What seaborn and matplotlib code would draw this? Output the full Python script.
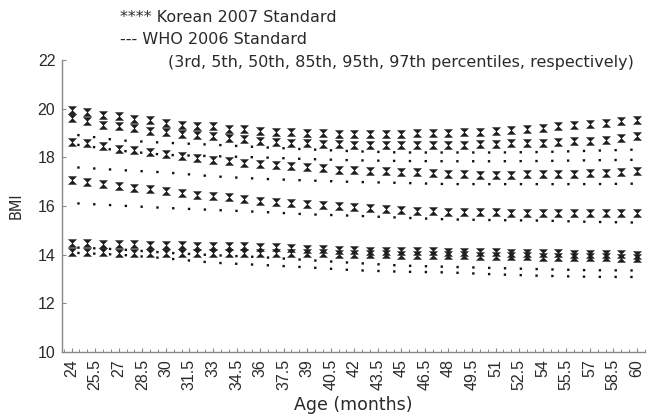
import numpy as np
import pandas as pd
import matplotlib
matplotlib.use('Agg')
import matplotlib.pyplot as plt
from matplotlib.ticker import MultipleLocator
import seaborn as sns

# Korean 2007 standard, read every month from 24 to 60
months = list(range(24, 61))
korean_p97 = [19.96, 19.86, 19.75, 19.68, 19.58, 19.52, 19.41, 19.34, 19.30, 19.28,
              19.18, 19.16, 19.10, 19.05, 19.04, 19.00, 19.00, 18.97, 18.96, 18.96,
              18.96, 18.98, 19.00, 19.00, 19.02, 19.04, 19.06, 19.08, 19.11, 19.16,
              19.21, 19.27, 19.32, 19.37, 19.42, 19.48, 19.55]
korean_p95 = [19.62, 19.48, 19.34, 19.28, 19.20, 19.10, 19.04, 18.96, 18.92, 18.88,
              18.80, 18.74, 18.68, 18.63, 18.60, 18.58, 18.56, 18.54, 18.52, 18.52,
              18.52, 18.52, 18.52, 18.52, 18.52, 18.52, 18.53, 18.55, 18.57, 18.59,
              18.60, 18.63, 18.66, 18.69, 18.73, 18.79, 18.86]
korean_p85 = [18.65, 18.60, 18.48, 18.36, 18.29, 18.22, 18.12, 18.07, 17.98, 17.88,
              17.83, 17.78, 17.74, 17.70, 17.64, 17.60, 17.56, 17.50, 17.46, 17.44,
              17.42, 17.40, 17.38, 17.36, 17.32, 17.30, 17.29, 17.29, 17.29, 17.30,
              17.31, 17.32, 17.33, 17.34, 17.36, 17.38, 17.42]
korean_p50 = [17.05, 16.97, 16.90, 16.82, 16.74, 16.68, 16.60, 16.53, 16.45, 16.40,
              16.35, 16.30, 16.22, 16.16, 16.12, 16.08, 16.03, 15.98, 15.95, 15.90,
              15.87, 15.84, 15.81, 15.79, 15.77, 15.76, 15.75, 15.74, 15.73, 15.72,
              15.72, 15.71, 15.71, 15.70, 15.70, 15.70, 15.70]
korean_p5 = [14.47, 14.46, 14.44, 14.43, 14.42, 14.41, 14.40, 14.38, 14.37, 14.36,
             14.35, 14.34, 14.33, 14.30, 14.27, 14.24, 14.22, 14.20, 14.18, 14.17,
             14.16, 14.15, 14.14, 14.13, 14.12, 14.11, 14.10, 14.09, 14.08, 14.07,
             14.06, 14.05, 14.04, 14.03, 14.02, 14.01, 14.00]
korean_p3 = [14.10, 14.10, 14.09, 14.08, 14.08, 14.07, 14.06, 14.06, 14.06, 14.05,
             14.05, 14.05, 14.05, 14.05, 14.05, 14.05, 14.05, 14.04, 14.03, 14.02,
             14.01, 14.00, 14.00, 13.99, 13.98, 13.97, 13.96, 13.95, 13.94, 13.93,
             13.92, 13.91, 13.90, 13.90, 13.89, 13.88, 13.88]

# WHO 2006 standard, read every 3 months
who_months = list(range(24, 61, 3))
who_p97 = [18.95, 18.70, 18.60, 18.52, 18.42, 18.33, 18.25, 18.20, 18.20, 18.20, 18.22, 18.27, 18.32]
who_p95 = [18.55, 18.28, 18.10, 18.05, 18.00, 17.93, 17.88, 17.85, 17.84, 17.84, 17.85, 17.88, 17.90]
who_p85 = [17.60, 17.48, 17.38, 17.22, 17.12, 17.05, 16.99, 16.95, 16.90, 16.90, 16.90, 16.90, 16.92]
who_p50 = [16.12, 16.02, 15.92, 15.84, 15.76, 15.66, 15.60, 15.52, 15.45, 15.42, 15.40, 15.35, 15.32]
who_p5 = [14.30, 14.22, 14.08, 13.98, 13.90, 13.78, 13.66, 13.55, 13.50, 13.45, 13.40, 13.36, 13.35]
who_p3 = [14.08, 14.00, 13.85, 13.67, 13.58, 13.48, 13.36, 13.30, 13.27, 13.19, 13.13, 13.09, 13.08]

korean = [korean_p3, korean_p5, korean_p50, korean_p85, korean_p95, korean_p97]
who = [who_p3, who_p5, who_p50, who_p85, who_p95, who_p97]

sns.set_theme(style='ticks')
plt.rcParams['font.family'] = ['Liberation Sans', 'DejaVu Sans']

ink = '#2a2a2a'
fig = plt.figure(figsize=(6.48, 4.2), dpi=100)
ax = fig.add_axes([0.096, 0.162, 0.899, 0.695])

# hourglass shaped marker like the original
hourglass = [(-1, 1), (1, 1), (-1, -1), (1, -1), (-1, 1)]
for vals in korean:
    sns.scatterplot(x=months, y=vals, marker=hourglass, s=33, color='#1e1e1e',
                    edgecolor='#1e1e1e', linewidth=0.3, ax=ax, legend=False, zorder=3)

for vals in who:
    sns.lineplot(x=who_months, y=vals, color='#111111', linewidth=1.7,
                 linestyle=(4.3, (1.0, 5.7)), ax=ax, legend=False)

ax.set_xlim(23.4, 60.5)
ax.set_ylim(10, 22)
ax.set_yticks(np.arange(10, 23, 2))
xt = np.arange(24, 60.01, 1.5)
ax.set_xticks(xt)
ax.set_xticklabels([f'{v:g}' for v in xt], rotation=90)
ax.xaxis.set_minor_locator(MultipleLocator(0.5))
ax.tick_params(axis='both', which='major', direction='in', length=3, width=0.8,
               color='#888888', labelsize=11.5, labelcolor=ink, pad=5)
ax.tick_params(axis='x', which='minor', direction='in', length=2, width=0.7, color='#888888')
sns.despine(ax=ax)
for side in ['left', 'bottom']:
    ax.spines[side].set_color('#888888')
    ax.spines[side].set_linewidth(1.0)

ax.set_xlabel('Age (months)', fontsize=12.5, color=ink, labelpad=4, family='DejaVu Sans')
ax.set_ylabel('BMI', fontsize=10.5, color=ink, labelpad=10, family='DejaVu Sans')

fig.text(120 / 648, 1 - 18 / 420, '**** Korean 2007 Standard', fontsize=11.5, color=ink,
         va='center', family='DejaVu Sans')
fig.text(120 / 648, 1 - 40 / 420, '--- WHO 2006 Standard', fontsize=11.5, color=ink,
         va='center', family='DejaVu Sans')
fig.text(168 / 648, 1 - 62 / 420, '(3rd, 5th, 50th, 85th, 95th, 97th percentiles, respectively)',
         fontsize=11.5, color=ink, va='center', family='DejaVu Sans')

fig.savefig('out.png', dpi=100)
